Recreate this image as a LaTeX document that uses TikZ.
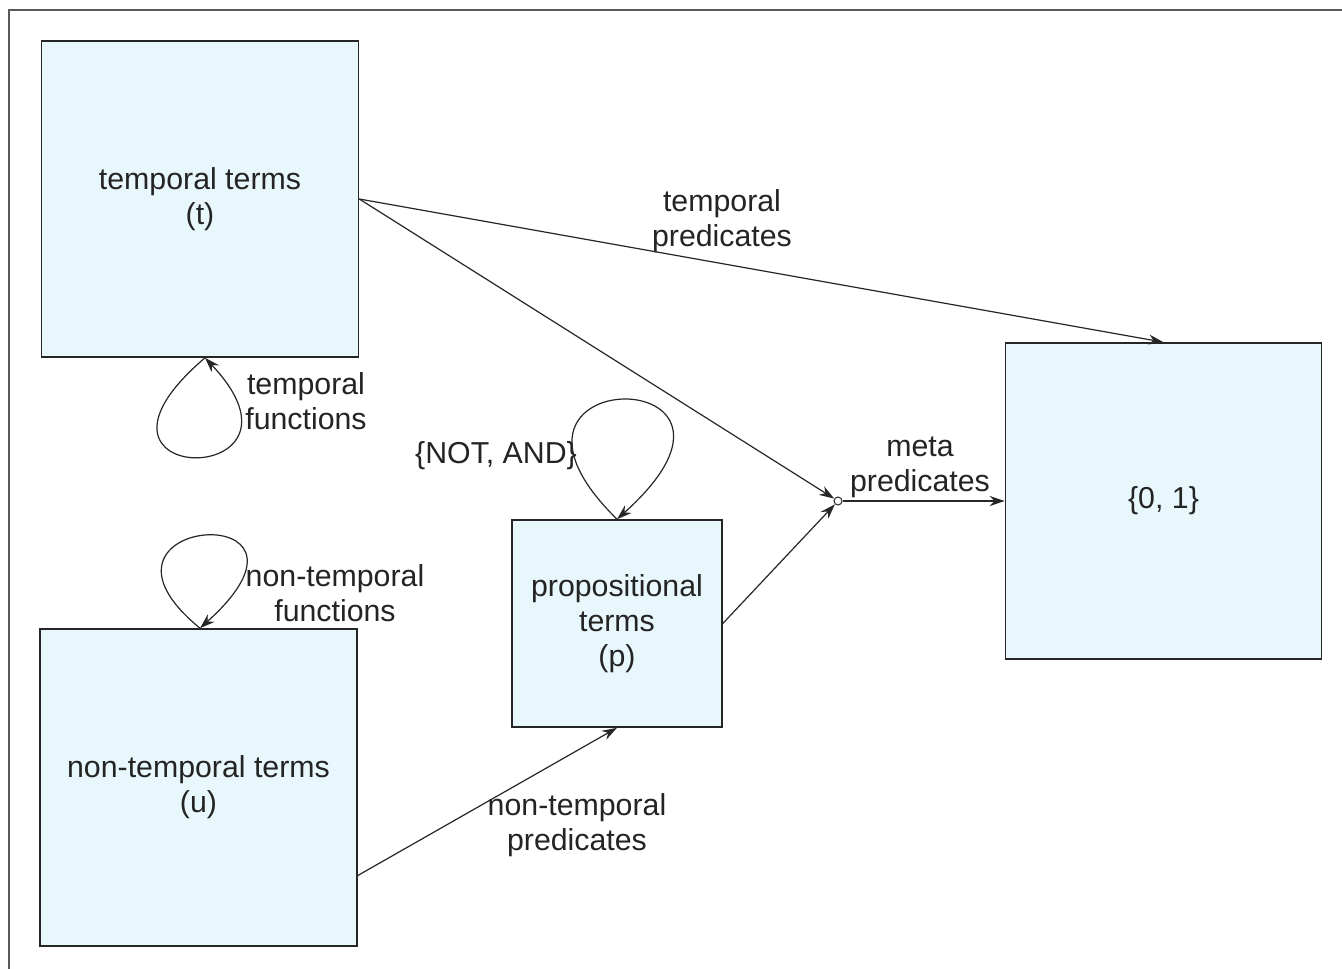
\documentclass[tikz,border=0pt]{standalone}
\usepackage{fontspec}
\setmainfont{Liberation Sans}
\usetikzlibrary{arrows.meta}
\definecolor{boxfill}{HTML}{E8F7FC}
\definecolor{ink}{HTML}{262626}
\definecolor{framegray}{HTML}{5A5A5A}
\newcommand\diagfont{\fontsize{30.3}{35}\selectfont}
\begin{document}
\begin{tikzpicture}[x=1pt,y=-1pt,
  every node/.style={text=ink!95!black, font=\diagfont, align=center},
  setbox/.style={draw=ink, line width=1.6pt, fill=boxfill, inner sep=0pt},
  conn/.style={draw=ink, line width=1.2pt, -{Stealth[length=15pt,width=10pt]}},
  lbl/.style={inner sep=0pt}]
  % page area
  \useasboundingbox (0,0) rectangle (1342,969);
  \fill[white] (0,0) rectangle (1342,969);
  % outer frame (top and left edges)
  \draw[framegray, line width=2pt] (9,969) -- (9,10) -- (1342,10);

  % sets
  \node[setbox, minimum width=317pt, minimum height=316pt] (t) at (200,199)
    {temporal terms\\(t)};
  \node[setbox, minimum width=317pt, minimum height=317pt] (u) at (198.5,787.5)
    {non-temporal terms\\(u)};
  \node[setbox, minimum width=210pt, minimum height=207pt] (p) at (617,623.5)
    {propositional\\terms\\(p)};
  \node[setbox, minimum width=316pt, minimum height=316pt] (z) at (1163.5,501)
    {\{0, 1\}};
  % junction of the meta predicates
  \node[circle, draw=ink, line width=1pt, fill=white, inner sep=0pt,
        minimum size=8pt] (j) at (838,501) {};

  % loop anchor points
  \coordinate (tl) at ([xshift=5pt]t.south);
  \coordinate (ul) at ([xshift=1.5pt]u.north);
  \coordinate (pl) at (p.north);

  % connectors
  \draw[conn] (t.east) -- (z.north);
  \draw[conn] (t.east) -- (j);
  \draw[conn] (p.east) -- (j);
  \draw[conn] (j) -- (z.west);
  \draw[conn] ([yshift=-88pt]u.east) -- (p.south);

  % self loops
  \draw[conn] (tl) .. controls (50,490) and (330,490) .. (tl);
  \draw[conn] (ul) .. controls (62,515) and (348,495) .. (ul);
  \draw[conn] (pl) .. controls (455,360) and (795,360) .. (pl);

  % labels
  \node[lbl] (ltp) at (722,221) {temporal\\predicates};
  \node[lbl] (ltf) at (306,401) {temporal\\functions};
  \node[lbl] (lna) at (496,456) {\{NOT, AND\}};
  \node[lbl] (lmp) at (920,467) {meta\\predicates};
  \node[lbl] (lnf) at (335,593) {non-temporal\\functions};
  \node[lbl] (lnp) at (577,825) {non-temporal\\predicates};
\end{tikzpicture}
\end{document}
